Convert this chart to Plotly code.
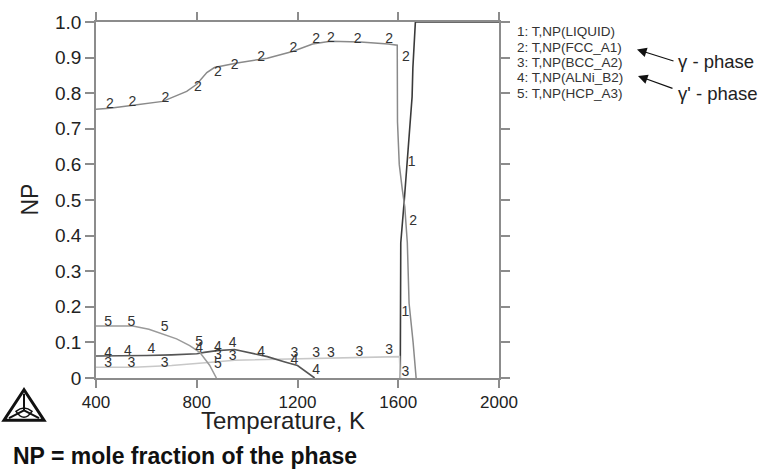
import plotly.graph_objects as go

# ---------------- data ----------------
T_liquid = [1608, 1608, 1610, 1624, 1636, 1655, 1658, 1666, 1668, 2000]
NP_liquid = [0.0, 0.06, 0.38, 0.50, 0.61, 0.79, 0.87, 0.96, 1.0, 1.0]

T_fcc = [400, 455, 547, 665, 760, 800, 840, 870, 960, 1080, 1180, 1260, 1330, 1450, 1560, 1596,
         1597, 1604, 1616, 1626, 1636, 1643, 1659, 1671]
NP_fcc = [0.755, 0.758, 0.766, 0.777, 0.805, 0.825, 0.858, 0.872, 0.885, 0.898, 0.917, 0.938, 0.946,
          0.944, 0.938, 0.935, 0.72, 0.60, 0.53, 0.48, 0.38, 0.21, 0.10, 0.0]

T_bcc = [400, 550, 700, 800, 870, 950, 1100, 1300, 1500, 1605, 1608]
NP_bcc = [0.030, 0.030, 0.035, 0.040, 0.045, 0.050, 0.052, 0.055, 0.058, 0.060, 0.0]

T_alni = [400, 500, 600, 700, 800, 830, 880, 950, 1000, 1080, 1150, 1200, 1268]
NP_alni = [0.062, 0.062, 0.063, 0.065, 0.068, 0.072, 0.077, 0.080, 0.073, 0.060, 0.045, 0.035, 0.0]

T_hcp = [400, 470, 546, 610, 666, 720, 772, 812, 851, 878]
NP_hcp = [0.146, 0.147, 0.146, 0.137, 0.124, 0.110, 0.091, 0.072, 0.036, 0.0]

# curve number labels (position)
lab1_T = [1716, 1944, 1653, 1628]
lab1_NP = [1.018, 1.018, 0.605, 0.185]
lab2_T = [455, 545, 676, 805, 884, 950, 1056, 1184, 1274, 1333, 1439, 1564, 1630, 1659]
lab2_NP = [0.768, 0.773, 0.784, 0.816, 0.858, 0.878, 0.899, 0.926, 0.950, 0.954, 0.952, 0.950, 0.899, 0.44]
lab3_T = [448, 541, 673, 884, 943, 1188, 1274, 1333, 1446, 1564, 1628]
lab3_NP = [0.040, 0.040, 0.040, 0.063, 0.060, 0.068, 0.068, 0.068, 0.072, 0.077, 0.015]
lab4_T = [448, 527, 620, 810, 884, 943, 1056, 1188, 1274]
lab4_NP = [0.069, 0.074, 0.079, 0.083, 0.086, 0.096, 0.072, 0.050, 0.020]
lab5_T = [448, 541, 673, 810, 884]
lab5_NP = [0.155, 0.155, 0.141, 0.100, 0.039]

x_ticks = [400, 800, 1200, 1600, 2000]
y_ticks = [0, 0.1, 0.2, 0.3, 0.4, 0.5, 0.6, 0.7, 0.8, 0.9, 1.0]
y_ticktext = ["0", "0.1", "0.2", "0.3", "0.4", "0.5", "0.6", "0.7", "0.8", "0.9", "1.0"]

legend_lines = ["1: T,NP(LIQUID)", "2: T,NP(FCC_A1)", "3: T,NP(BCC_A2)",
                "4: T,NP(ALNi_B2)", "5: T,NP(HCP_A3)"]

# ---------------- layout helpers ----------------
W, H = 760, 471
L, R, TOP, BOT = 96, 499, 15, 378
FONT = "Liberation Sans, Arial, sans-serif"


def px(x):
    return (x - L) / (R - L)


def py(y):
    return (BOT - y) / (BOT - TOP)


fig = go.Figure()

series = [
    (T_liquid, NP_liquid, "#3a3a3a", 1.6),
    (T_fcc, NP_fcc, "#8a8a8a", 1.5),
    (T_bcc, NP_bcc, "#c8c8c8", 1.6),
    (T_alni, NP_alni, "#555555", 1.6),
    (T_hcp, NP_hcp, "#9a9a9a", 1.5),
]
for xs, ys, col, w in series:
    fig.add_trace(go.Scatter(x=xs, y=ys, mode="lines", line=dict(color=col, width=w),
                             cliponaxis=False, showlegend=False, hoverinfo="skip"))

labels = [(lab1_T, lab1_NP, "1"), (lab2_T, lab2_NP, "2"), (lab3_T, lab3_NP, "3"),
          (lab4_T, lab4_NP, "4"), (lab5_T, lab5_NP, "5")]
for xs, ys, t in labels:
    fig.add_trace(go.Scatter(x=xs, y=ys, mode="text", text=[t] * len(xs),
                             textfont=dict(family=FONT, size=14, color="#333333"),
                             cliponaxis=False, showlegend=False, hoverinfo="skip"))

axis_common = dict(showgrid=False, zeroline=False, showline=True, linecolor="#8c8c8c",
                   linewidth=1.5, ticks="outside", tickcolor="#8c8c8c", tickwidth=1.5,
                   mirror="ticks")

fig.update_xaxes(range=[400, 2000], tickvals=x_ticks, ticklen=8,
                 tickfont=dict(family=FONT, size=17, color="#222222"), **axis_common)
fig.update_yaxes(range=[0, 1], tickvals=y_ticks, ticktext=y_ticktext, ticklen=9,
                 tickfont=dict(family=FONT, size=19, color="#222222"), **axis_common)


def note(x, y, text, size, xanchor="center", color="#222222", **kw):
    return dict(x=px(x), y=py(y), xref="paper", yref="paper", text=text, showarrow=False,
                xanchor=xanchor, yanchor="middle",
                font=dict(family=FONT, size=size, color=color), **kw)


ann = []
# axis titles
ann.append(note(283, 421, "Temperature, K", 24))
ann.append(note(30, 196, "NP", 23, textangle=-90))
ann.append(note(11, 458, "<b>NP = mole fraction of the phase</b>", 23, xanchor="left",
                color="#111111"))
# legend text
for i, s in enumerate(legend_lines):
    ann.append(note(515, 25 + i * 15.6, s, 13.5, xanchor="left", color="#333333"))
# phase arrows
ann.append(dict(x=px(637), y=py(43), xref="paper", yref="paper", text="", showarrow=True,
                ax=38, ay=12, arrowhead=2, arrowsize=1.6, arrowwidth=1.2, arrowcolor="#111111"))
ann.append(dict(x=px(638), y=py(70), xref="paper", yref="paper", text="", showarrow=True,
                ax=36, ay=13, arrowhead=2, arrowsize=1.6, arrowwidth=1.2, arrowcolor="#111111"))
ann.append(note(676, 55, "\u03b3 - phase", 18.5, xanchor="left"))
ann.append(note(676, 88, "\u03b3' - phase", 18.5, xanchor="left"))

# Thermo-Calc style logo
shapes = []
ax_, ay_ = 24, 390
bl, br, by = 4, 44, 421
cx, cy = 24, 411
shapes.append(dict(type="path", xref="paper", yref="paper",
                   path=f"M {px(ax_)},{py(ay_)} L {px(bl)},{py(by)} L {px(br)},{py(by)} Z",
                   line=dict(color="#111111", width=3)))
for vx, vy in [(ax_, ay_ + 4), (bl + 5, by - 2), (br - 5, by - 2)]:
    shapes.append(dict(type="line", xref="paper", yref="paper",
                       x0=px(vx), y0=py(vy), x1=px(cx), y1=py(cy),
                       line=dict(color="#111111", width=2)))
shapes.append(dict(type="path", xref="paper", yref="paper",
                   path=f"M {px(16)},{py(412)} Q {px(24)},{py(405)} {px(32)},{py(412)}"
                        f" Q {px(28)},{py(418)} {px(24)},{py(418)} Q {px(20)},{py(418)} {px(16)},{py(412)} Z",
                   line=dict(color="#111111", width=1.5)))

fig.update_layout(width=W, height=H, margin=dict(l=L, r=W - R, t=TOP, b=H - BOT),
                  plot_bgcolor="white", paper_bgcolor="white", annotations=ann, shapes=shapes,
                  showlegend=False)

fig.write_html("out.html")
